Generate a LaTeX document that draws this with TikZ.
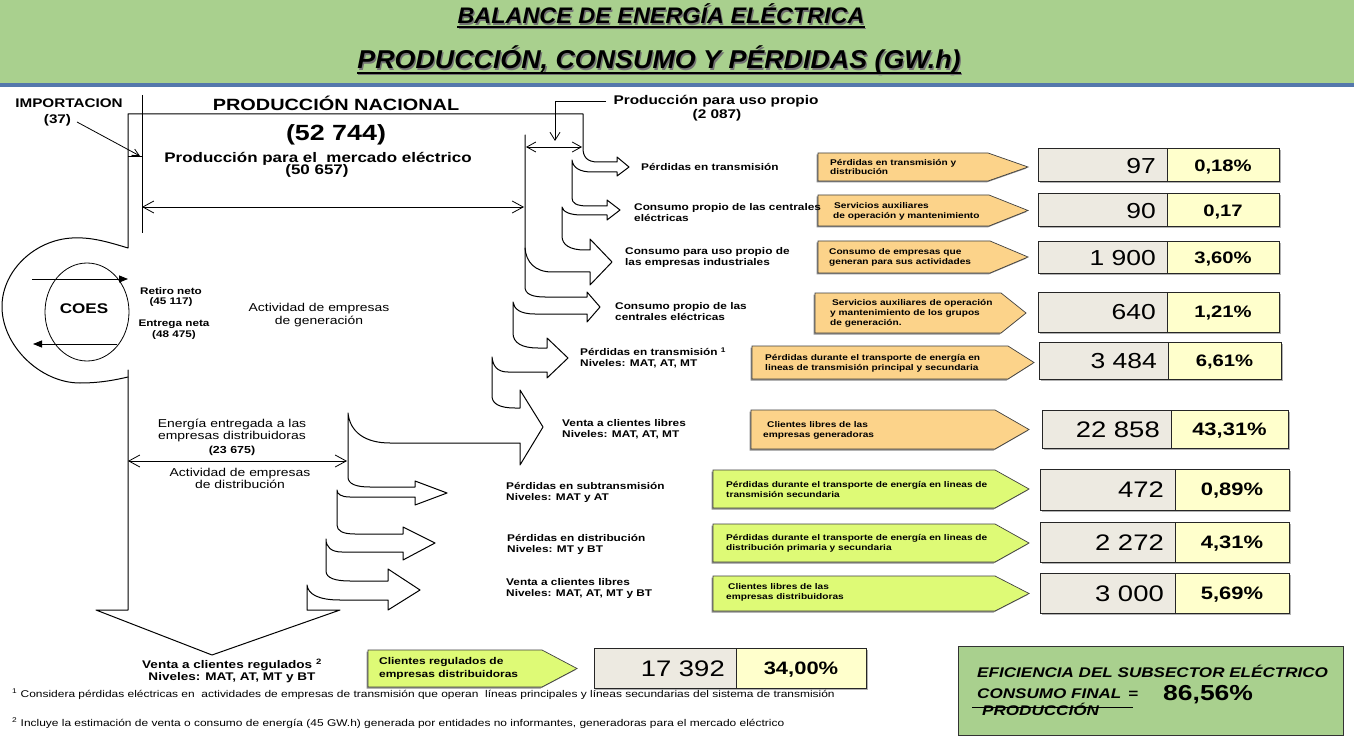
\documentclass[tikz,border=0pt]{standalone}
\usepackage{fontspec}
\setmainfont{Liberation Sans}[FakeStretch=1.22]
\newfontfamily\titlefont{Liberation Sans}[FakeStretch=1.04]
\usetikzlibrary{arrows.meta}

\definecolor{hdrgreen}{RGB}{169,208,142}
\definecolor{hdrblue}{RGB}{84,120,172}
\definecolor{tagorange}{RGB}{252,211,138}
\definecolor{taglime}{RGB}{222,250,118}
\definecolor{valgray}{RGB}{237,234,225}
\definecolor{pctyellow}{RGB}{255,255,204}
\definecolor{effgreen}{RGB}{169,208,142}

\newcommand\fsz[2]{\fontsize{#1}{#2}\selectfont}
\def\valsz{21.7}
\def\pctsz{16.6}

\tikzset{
  flow/.style={draw=black, line width=1pt, line join=round, line cap=round},
  guide/.style={draw=black, line width=0.8pt},
  dbl/.style={>={Straight Barb[length=11pt,width=12pt]}, <->},
  dblsmall/.style={>={Straight Barb[length=9pt,width=10pt]}, <->},
  cellframe/.style={draw=black!85, line width=1pt},
  tagframe/.style={draw=black!75, line width=0.7pt},
  valtext/.style={anchor=base east, inner sep=0pt, font=\fsz{\valsz}{\valsz}},
  pcttext/.style={anchor=base, inner sep=0pt, font=\bfseries\fsz{\pctsz}{\pctsz}},
  lbl/.style={anchor=west, inner sep=0pt, align=left, font=\bfseries\fsz{9.7}{11}},
  tagtxt/.style={anchor=west, inner sep=0pt, align=left, font=\bfseries\fsz{8.3}{9.8}},
  titletxt/.style={anchor=base, inner sep=0pt, font=\titlefont\bfseries\itshape\fsz{#1}{#1}},
  efftxt/.style={anchor=base west, inner sep=0pt, font=\bfseries\itshape\fsz{14}{14}},
  notetxt/.style={anchor=base west, inner sep=0pt, font=\fsz{9.8}{11}},
}

% value cell pair: name, x0, x-split, x1, y0, y1, value, percentage
\newcommand\valrow[8]{%
  \fill[black!30] (#2+1.5,#5+1.5) rectangle (#4+1.5,#6+1.5);
  \filldraw[cellframe, fill=valgray] (#2,#5) rectangle (#3,#6);
  \filldraw[cellframe, fill=pctyellow] (#3,#5) rectangle (#4,#6);
  \node[valtext] (#1v) at (#3-11,{(#5+#6)/2+0.358*\valsz}) {#7};
  \node[pcttext] (#1p) at ({(#3+#4)/2},{(#5+#6)/2+0.358*\pctsz}) {#8};
}

% pointed tag: fill, x0, y0, x body end, x tip, y1
\newcommand\tagbox[6]{%
  \fill[black!45] (#2-1.5,#3+1.5) -- (#4-1.5,#3+1.5) -- (#5-1.5,{(#3+#6)/2+1.5}) -- (#4-1.5,#6+1.5) -- (#2-1.5,#6+1.5) -- cycle;
  \filldraw[tagframe, fill=#1] (#2,#3) -- (#4,#3) -- (#5,{(#3+#6)/2}) -- (#4,#6) -- (#2,#6) -- cycle;
}

\begin{document}
\begin{tikzpicture}[x=1pt,y=-1pt]
\useasboundingbox (0,0) rectangle (1354,743);
\fill[white] (0,0) rectangle (1354,743);

% header band
\fill[hdrgreen] (0,0) rectangle (1354,84);
\fill[hdrblue] (0,83.5) rectangle (1354,87);

\node[titletxt=22.5, text=black!55] (t1s) at (662.3,25.3) {BALANCE DE ENERGÍA ELÉCTRICA};
\node[titletxt=22.5] (t1) at (661,24) {BALANCE DE ENERGÍA ELÉCTRICA};
\draw[black!55, line width=1.5pt] ([shift={(1.3pt,-4.3pt)}]t1.base west) -- ([shift={(1.3pt,-4.3pt)}]t1.base east);
\draw[line width=1.5pt] ([yshift=-3pt]t1.base west) -- ([yshift=-3pt]t1.base east);

\node[titletxt=25.8, text=black!55] (t2s) at (660.3,70.3) {PRODUCCIÓN, CONSUMO Y PÉRDIDAS (GW.h)};
\node[titletxt=25.8] (t2) at (659,69) {PRODUCCIÓN, CONSUMO Y PÉRDIDAS (GW.h)};
\draw[black!55, line width=1.6pt] ([shift={(1.3pt,-5.3pt)}]t2.base west) -- ([shift={(1.3pt,-5.3pt)}]t2.base east);
\draw[line width=1.6pt] ([yshift=-4pt]t2.base west) -- ([yshift=-4pt]t2.base east);

% generation side: main stream and its branches, down to the regulated-sales arrow
\draw[flow] (525,135) -- (525,287) .. controls (525,294) and (532,297) .. (545,297) -- (587,297)
  -- (587,292) -- (600,307) -- (587,322) -- (587,314) -- (535,314)
  .. controls (520,314) and (514,309) .. (513,302)
  -- (513,333) .. controls (513,343) and (522,348) .. (538,348) -- (547,348)
  -- (547,338) -- (568,358) -- (547,378) -- (547,372) -- (508,372)
  .. controls (497,372) and (493,366) .. (492,357)
  -- (492,396) .. controls (492,404) and (500,408) .. (515,408) -- (520,408)
  -- (520,390) -- (543,427) -- (520,465) -- (520,443) -- (390,443)
  .. controls (365,443) and (350,432) .. (348,413)
  -- (348,477) .. controls (348,484) and (356,487) .. (370,487) -- (415,487)
  -- (415,481) -- (447,493) -- (415,505) -- (415,497) -- (350,497)
  .. controls (341,497) and (337,494) .. (337,490)
  -- (337,525) .. controls (337,531) and (343,534) .. (355,534) -- (403,534)
  -- (403,527) -- (435,543) -- (403,560) -- (403,552) -- (342,552)
  .. controls (331,552) and (326,547) .. (326,539)
  -- (326,571) .. controls (326,578) and (335,581) .. (350,581) -- (388,581)
  -- (388,569) -- (420,590) -- (388,610) -- (388,600) -- (340,600)
  .. controls (318,600) and (308,594) .. (307,585)
  -- (307,610) -- (340,610) -- (212,655) -- (96,610) -- (128,610) -- (128,370);

% COES loop, national production band and own-use branches
\draw[flow] (128,377) .. controls (115,380) and (100,383) .. (80,383)
  .. controls (40,383) and (1,345) .. (2,305)
  .. controls (3,270) and (35,240) .. (72,238)
  .. controls (90,237) and (105,241) .. (128,248)
  -- (128,114) -- (583,114) -- (583,148) .. controls (583,157) and (587,162) .. (598,162) -- (617,162)
  -- (617,157) -- (629,167) -- (617,176) -- (617,172) -- (592,172)
  .. controls (580,172) and (573,168) .. (572,160)
  -- (572,198) .. controls (572,203) and (576,206) .. (588,206) -- (607,206)
  -- (607,200) -- (620,210) -- (607,220) -- (607,215) -- (582,215)
  .. controls (570,215) and (563,212) .. (562,207)
  -- (562,236) .. controls (562,245) and (570,250) .. (585,250) -- (590,250)
  -- (590,239) -- (612,262) -- (590,285) -- (590,272) -- (552,272)
  .. controls (535,272) and (526,262) .. (525,248);

\draw[guide] (142,95) -- (142,233);
\draw[guide] (128,156) -- (142,156);
\draw[guide, -{Straight Barb[length=7pt,width=7pt]}] (77,122) -- (140,156);
\draw[guide, dbl] (142,207) -- (524,207);
\draw[guide, dblsmall] (526,147) -- (582,147);
\draw[guide, -{Straight Barb[length=8pt,width=10pt]}] (606,101) -- (555,101) -- (555,141);
\draw[guide, dbl] (128,461) -- (347,461);

\draw[guide] (87,312) ellipse [x radius=42pt, y radius=49pt];
\draw[guide, -{Triangle[length=9pt,width=7pt]}] (32,279) -- (128,279);
\draw[guide, -{Triangle[length=9pt,width=7pt]}] (117,344) -- (33,344);

% left and top texts
\node[anchor=base, inner sep=0pt, font=\bfseries\fsz{12.5}{12.5}] (imp) at (69,108) {IMPORTACION};
\node[anchor=base, inner sep=0pt, font=\bfseries\fsz{12.5}{12.5}] (impv) at (57.5,124) {(37)};
\node[anchor=base, inner sep=0pt, font=\bfseries\fsz{16.3}{16.3}] (pn) at (336,111) {PRODUCCIÓN NACIONAL};
\node[anchor=base, inner sep=0pt, font=\bfseries\fsz{22}{22}] (pnv) at (336,141) {(52 744)};
\node[anchor=base, inner sep=0pt, font=\bfseries\fsz{13.9}{13.9}] (pm) at (318,163) {Producción para el\ \ mercado eléctrico};
\node[anchor=base, inner sep=0pt, font=\bfseries\fsz{13.9}{13.9}] (pmv) at (317,175) {(50 657)};
\node[anchor=base, inner sep=0pt, font=\bfseries\fsz{12.6}{12.6}] (pu) at (716,104.5) {Producción para uso propio};
\node[anchor=base, inner sep=0pt, font=\bfseries\fsz{12.6}{12.6}] (puv) at (717,119) {(2 087)};

\node[inner sep=0pt, font=\bfseries\fsz{14}{14}] (coes) at (84,309) {COES};
\node[inner sep=0pt, align=center, font=\bfseries\fsz{9.6}{10.5}] (ret) at (171,297) {Retiro neto\\(45 117)};
\node[inner sep=0pt, align=center, font=\bfseries\fsz{9.6}{10.5}] (ent) at (174,329.5) {Entrega neta\\(48 475)};
\node[inner sep=0pt, align=center, font=\fsz{11.4}{13}] (actg) at (319,315.5) {Actividad de empresas\\de generación};
\node[inner sep=0pt, align=center, font=\fsz{11.4}{12}] (ene) at (232,430) {Energía entregada a las\\empresas distribuidoras};
\node[inner sep=0pt, font=\bfseries\fsz{10.2}{10.2}] (enev) at (232,451) {(23 675)};
\node[inner sep=0pt, align=center, font=\fsz{11.4}{11.5}] (actd) at (240,478.5) {Actividad de empresas\\de distribución};
\node[inner sep=0pt, align=center, font=\bfseries\fsz{11.1}{12}] (vreg) at (232,670.5) {Venta a clientes regulados \textsuperscript{2}\\Niveles: MAT, AT, MT y BT};

% pointed tags
\tagbox{tagorange}{818}{153}{988}{1028}{181}
\tagbox{tagorange}{818}{195}{989}{1028}{226}
\tagbox{tagorange}{818}{241}{990}{1028}{273}
\tagbox{tagorange}{815}{293}{1001}{1026}{333}
\tagbox{tagorange}{752}{346}{1008}{1034}{379}
\tagbox{tagorange}{751}{410}{995}{1029}{449}
\tagbox{taglime}{713}{470}{995}{1029}{508}
\tagbox{taglime}{713}{524}{995}{1029}{562}
\tagbox{taglime}{713}{576}{995}{1029}{611}
\tagbox{taglime}{368}{650}{542}{577}{687}

\node[tagtxt] (o1) at (830,167) {Pérdidas en transmisión y\\distribución};
\node[tagtxt] (o2) at (833,211) {\hspace*{1pt}Servicios auxiliares\\de operación y mantenimiento};
\node[tagtxt] (o3) at (829,257.5) {Consumo de empresas que\\generan para sus actividades};
\node[tagtxt] (o4) at (830,313.5) {\hspace*{2pt}Servicios auxiliares de operación\\y mantenimiento de los grupos\\de generación.};
\node[tagtxt] (o5) at (765,363) {Pérdidas durante el transporte de energía en\\lineas de transmisión principal y secundaria};
\node[tagtxt] (o6) at (763,430) {\hspace*{4pt}Clientes libres de las\\empresas generadoras};
\node[tagtxt] (g7) at (726,489.5) {Pérdidas durante el transporte de energía en lineas de\\transmisión secundaria};
\node[tagtxt] (g8) at (726,543) {Pérdidas durante el transporte de energía en lineas de\\distribución primaria y secundaria};
\node[tagtxt] (g9) at (726,592) {\hspace*{2pt}Clientes libres de las\\empresas distribuidoras};
\node[tagtxt, font=\bfseries\fsz{9.8}{12.5}] (gb) at (379,668.5) {Clientes regulados de\\empresas distribuidoras};

% branch labels
\node[lbl] (a1) at (641,167) {Pérdidas en transmisión};
\node[lbl] (a2) at (634,212.5) {Consumo propio de las centrales\\eléctricas};
\node[lbl] (a3) at (625,257) {Consumo para uso propio de\\las empresas industriales};
\node[lbl] (a4) at (615,312) {Consumo propio de las\\centrales eléctricas};
\node[lbl] (a5) at (580,358) {Pérdidas en transmisión \textsuperscript{1}\\Niveles: MAT, AT, MT};
\node[lbl] (a6) at (562,429.5) {Venta a clientes libres\\Niveles: MAT, AT, MT};
\node[lbl] (b1) at (506,492) {Pérdidas en subtransmisión\\Niveles: MAT y AT};
\node[lbl] (b2) at (507,544.5) {Pérdidas en distribución\\Niveles: MT y BT};
\node[lbl] (b3) at (506,588) {Venta a clientes libres\\Niveles: MAT, AT, MT y BT};

% values and shares
\valrow{r1}{1038}{1167}{1279}{149}{182}{97}{0,18\%}
\valrow{r2}{1038}{1167}{1279}{194}{227}{90}{0,17}
\valrow{r3}{1038}{1167}{1279}{242}{274}{1 900}{3,60\%}
\valrow{r4}{1038}{1167}{1279}{292}{332}{640}{1,21\%}
\valrow{r5}{1039}{1168}{1281}{342}{379}{3 484}{6,61\%}
\def\valsz{22.5}
\def\pctsz{18}
\valrow{r6}{1042}{1171}{1288}{410}{448}{22 858}{43,31\%}
\valrow{r7}{1040}{1175}{1289}{469}{510}{472}{0,89\%}
\valrow{r8}{1040}{1175}{1289}{522}{562}{2 272}{4,31\%}
\valrow{r9}{1040}{1175}{1289}{573}{613}{3 000}{5,69\%}
\valrow{rb}{594}{736}{866}{648}{688}{17 392}{34,00\%}

% efficiency box
\filldraw[fill=effgreen, draw=black!80, line width=0.8pt] (958,646) rectangle (1343,735);
\node[efftxt] (effa) at (977,677) {EFICIENCIA DEL SUBSECTOR ELÉCTRICO};
\node[efftxt] (effb) at (977,698) {CONSUMO FINAL};
\node[efftxt] (effeq) at (1128,698) {=};
\node[anchor=base west, inner sep=0pt, font=\bfseries\fsz{21.7}{21.7}] (effv) at (1163,700) {86,56\%};
\node[efftxt] (effc) at (982,715) {PRODUCCIÓN};
\draw[line width=0.9pt] (972,707) -- (1133,707);

% footnotes
\node[notetxt] (fn1) at (12,697) {\textsuperscript{1} Considera pérdidas eléctricas en\ \ actividades de empresas de transmisión que operan\ \ líneas principales y líneas secundarias del sistema de transmisión};
\node[notetxt] (fn2) at (12,726) {\textsuperscript{2} Incluye la estimación de venta o consumo de energía (45 GW.h) generada por entidades no informantes, generadoras para el mercado eléctrico};
\end{tikzpicture}
\end{document}
